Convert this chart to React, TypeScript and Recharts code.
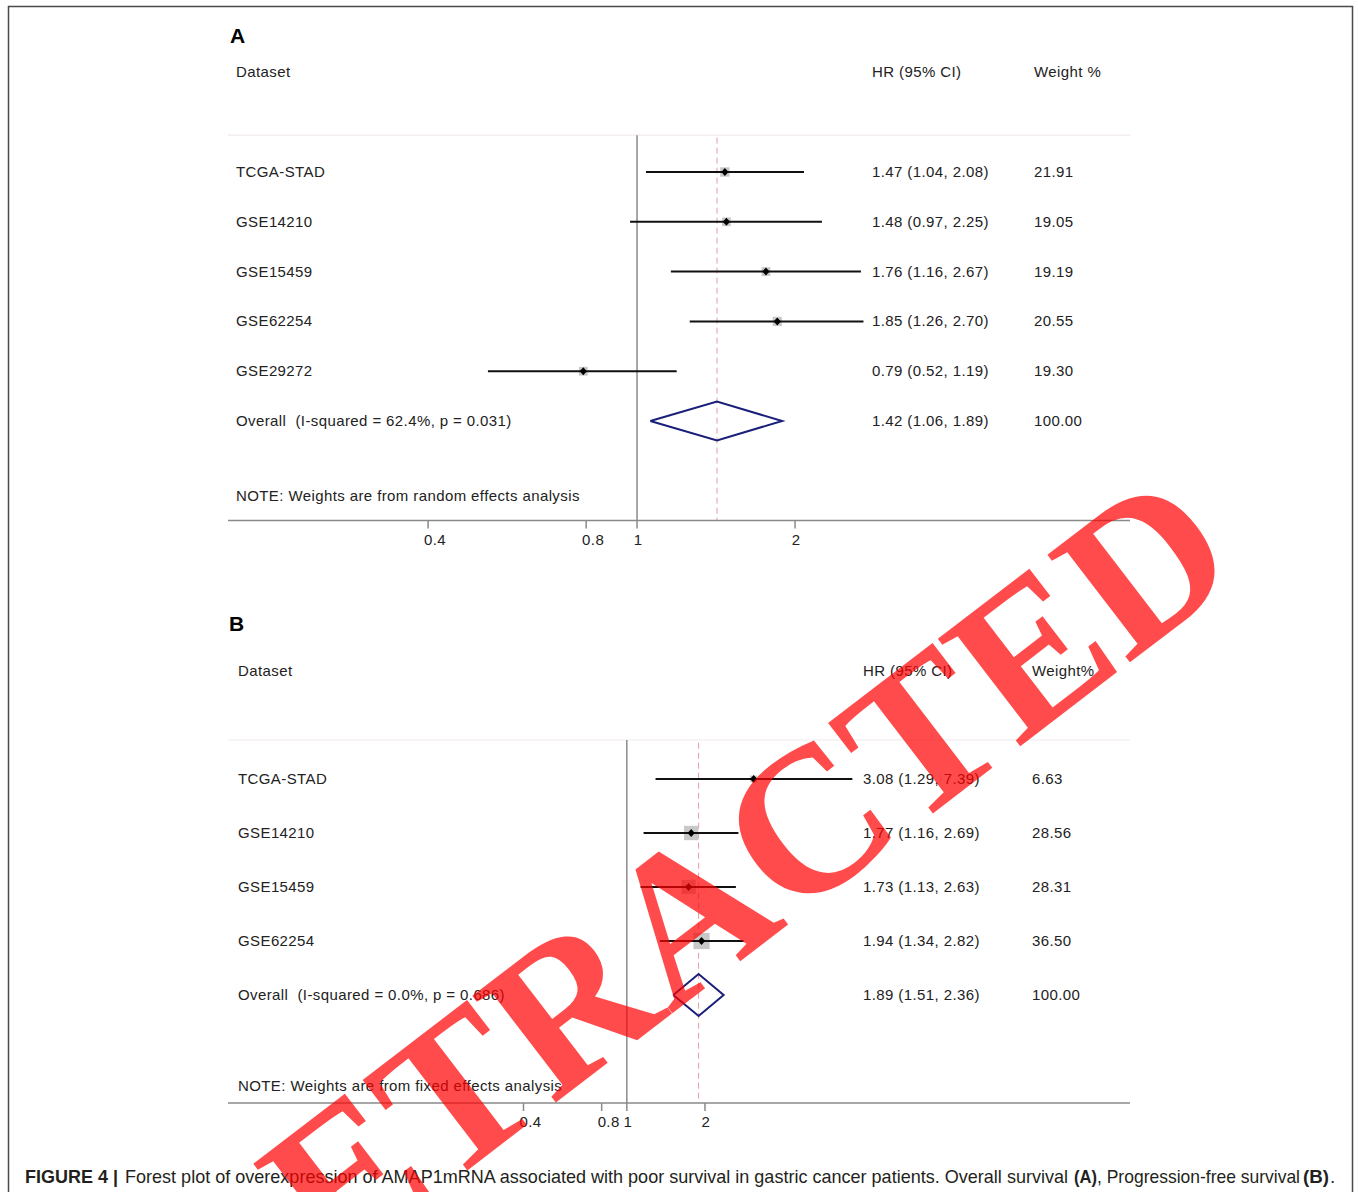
import React from 'react'
import { ScatterChart, Scatter, XAxis, YAxis, ReferenceLine } from 'recharts'

// Panel A: overall survival (random effects)
const studiesA = ['TCGA-STAD', 'GSE14210', 'GSE15459', 'GSE62254', 'GSE29272']
const hrA = [1.47, 1.48, 1.76, 1.85, 0.79]
const lowA = [1.04, 0.97, 1.16, 1.26, 0.52]
const highA = [2.08, 2.25, 2.67, 2.7, 1.19]
const weightA = [21.91, 19.05, 19.19, 20.55, 19.3]
const overallA = { hr: 1.42, lo: 1.06, hi: 1.89 }
const overallLabelA = 'Overall  (I-squared = 62.4%, p = 0.031)'
const noteA = 'NOTE: Weights are from random effects analysis'

// Panel B: progression-free survival (fixed effects)
const studiesB = ['TCGA-STAD', 'GSE14210', 'GSE15459', 'GSE62254']
const hrB = [3.08, 1.77, 1.73, 1.94]
const lowB = [1.29, 1.16, 1.13, 1.34]
const highB = [7.39, 2.69, 2.63, 2.82]
const weightB = [6.63, 28.56, 28.31, 36.5]
const overallB = { hr: 1.89, lo: 1.51, hi: 2.36 }
const overallLabelB = 'Overall  (I-squared = 0.0%, p = 0.686)'
const noteB = 'NOTE: Weights are from fixed effects analysis'

const axisTicks = [0.4, 0.8, 1, 2]

const FONT = '"Liberation Sans", Arial, Helvetica, sans-serif'
const INK = '#222'

const fmtCI = (h: number, l: number, u: number) => `${h.toFixed(2)} (${l.toFixed(2)}, ${u.toFixed(2)})`

function ForestPanel(props: any) {
  const {
    top, height, mTop, mBottom, xDomain, yDomain, studies, hr, low, high, weight, overall,
    overallLabel, note, noteRow, sepRow, colName, colHR, colW, weightHead, boxK
  } = props
  const nStudy = studies.length
  const overallRow = nStudy + 1
  const yMax = yDomain[1]

  const rowText: Record<number, string[]> = { [-1]: ['Dataset', 'HR (95% CI)', weightHead] }
  studies.forEach((s: string, i: number) => {
    rowText[i + 1] = [s, fmtCI(hr[i], low[i], high[i]), weight[i].toFixed(2)]
  })
  rowText[overallRow] = [overallLabel, fmtCI(overall.hr, overall.lo, overall.hi), '100.00']
  rowText[noteRow] = [note, '', '']

  const RowTick = ({ y, payload }: any) => {
    const t = rowText[payload.value]
    if (!t) return <g />
    const style = { fontFamily: FONT, fontSize: 15, fill: INK, letterSpacing: 0.4, whiteSpace: 'pre' as const }
    return (
      <g>
        <text x={colName} y={y} dy={5} style={style} xmlSpace="preserve">{t[0]}</text>
        {t[1] && <text x={colHR} y={y} dy={5} style={style}>{t[1]}</text>}
        {t[2] && <text x={colW} y={y} dy={5} style={style}>{t[2]}</text>}
      </g>
    )
  }

  const AxisTick = ({ x, y, payload }: any) => (
    <text x={x + (payload.value < 1 ? 7 : 1)} y={y} dy={14} textAnchor="middle"
      style={{ fontFamily: FONT, fontSize: 15, fill: INK, letterSpacing: 0.4 }}>
      {payload.value}
    </text>
  )

  const boxes = studies.map((s: string, i: number) => ({ x: hr[i], y: i + 1, w: weight[i] }))
  const diamond = [
    { x: overall.lo, y: overallRow },
    { x: overall.hr, y: overallRow - 0.39 },
    { x: overall.hi, y: overallRow },
    { x: overall.hr, y: overallRow + 0.39 },
    { x: overall.lo, y: overallRow },
  ]

  const BoxShape = ({ cx, cy, payload }: any) => {
    const s = boxK * Math.sqrt(payload.w)
    return <rect x={cx - s / 2} y={cy - s / 2} width={s} height={s} fill="#c8c8c8" />
  }
  const PointShape = ({ cx, cy }: any) => (
    <polygon points={`${cx},${cy - 4} ${cx + 3.6},${cy} ${cx},${cy + 4} ${cx - 3.6},${cy}`} fill="#000" />
  )
  const NoShape = () => <g />

  return (
    <div style={{ position: 'absolute', left: 0, top, width: 1358, height }}>
      <ScatterChart width={1358} height={height} margin={{ top: mTop, right: 228, bottom: mBottom, left: 227 }}>
        <XAxis
          dataKey="x" type="number" scale="log" domain={xDomain} allowDataOverflow
          ticks={axisTicks} interval={0} tick={<AxisTick />} tickSize={8} height={40}
          axisLine={{ stroke: '#8a8a8a', strokeWidth: 1.5 }} tickLine={{ stroke: '#8a8a8a', strokeWidth: 1.5 }}
        />
        <YAxis
          dataKey="y" type="number" domain={yDomain} reversed allowDataOverflow width={1}
          ticks={[-1, ...studies.map((s: string, i: number) => i + 1), overallRow, noteRow]} interval={0}
          axisLine={false} tickLine={false} tick={<RowTick />}
        />
        <ReferenceLine y={sepRow} stroke="#f2e8ea" strokeWidth={1.2} />
        <ReferenceLine segment={[{ x: 1, y: sepRow }, { x: 1, y: yMax }]} stroke="#8a8a8a" strokeWidth={1.5} />
        <ReferenceLine segment={[{ x: overall.hr, y: sepRow + 0.05 }, { x: overall.hr, y: yMax }]}
          stroke="#e79aa4" strokeWidth={1} strokeDasharray="6 4" />
        <Scatter data={boxes} shape={<BoxShape />} isAnimationActive={false} />
        {studies.map((s: string, i: number) => (
          <Scatter key={s} data={[{ x: low[i], y: i + 1 }, { x: high[i], y: i + 1 }]}
            line={{ stroke: '#111', strokeWidth: 2 }} shape={<NoShape />} isAnimationActive={false} />
        ))}
        <Scatter data={boxes} shape={<PointShape />} isAnimationActive={false} />
        <Scatter data={diamond} line={{ stroke: '#1a1f7a', strokeWidth: 2 }} shape={<NoShape />} isAnimationActive={false} />
      </ScatterChart>
    </div>
  )
}

const capStyle = { fontFamily: FONT, fontSize: 19, fill: '#231f20' }
const capBold = { ...capStyle, fontWeight: 'bold' as const }

export default function App() {
  return (
    <div style={{ position: 'absolute', left: 0, top: 0, width: 1358, height: 1192, background: '#fff', overflow: 'hidden' }}>
      <svg width={1358} height={1192} style={{ position: 'absolute', left: 0, top: 0 }}>
        <path d="M8.5,1200 L8.5,6.5 L1352.5,6.5 L1352.5,1200" fill="none" stroke="#4a4a4a" strokeWidth={1.5} />
        <text x={230} y={43} style={{ fontFamily: FONT, fontSize: 21, fontWeight: 'bold', fill: '#000' }}>A</text>
        <text x={229} y={631} style={{ fontFamily: FONT, fontSize: 21, fontWeight: 'bold', fill: '#000' }}>B</text>
      </svg>

      <ForestPanel
        top={0} height={580} mTop={47.5} mBottom={19.4}
        xDomain={[0.1663, 8.69]} yDomain={[-1.5, 8]}
        studies={studiesA} hr={hrA} low={lowA} high={highA} weight={weightA} overall={overallA}
        overallLabel={overallLabelA} note={noteA} noteRow={7.5} sepRow={0.26}
        colName={236} colHR={872} colW={1034} weightHead="Weight %" boxK={2.0}
      />
      <ForestPanel
        top={590} height={580} mTop={54} mBottom={27}
        xDomain={[0.0291, 86.7]} yDomain={[-1.5, 7]}
        studies={studiesB} hr={hrB} low={lowB} high={highB} weight={weightB} overall={overallB}
        overallLabel={overallLabelB} note={noteB} noteRow={6.685} sepRow={0.278}
        colName={238} colHR={863} colW={1032} weightHead="Weight%" boxK={2.68}
      />

      <svg width={1358} height={1192} style={{ position: 'absolute', left: 0, top: 0, pointerEvents: 'none' }}>
        <text x={25} y={1183} textLength={93} lengthAdjust="spacingAndGlyphs" style={capBold}>FIGURE 4 |</text>
        <text x={125} y={1183} textLength={943} lengthAdjust="spacingAndGlyphs" style={capStyle}>
          Forest plot of overexpression of AMAP1mRNA associated with poor survival in gastric cancer patients. Overall survival
        </text>
        <text x={1074} y={1183} textLength={23} lengthAdjust="spacingAndGlyphs" style={capBold}>(A)</text>
        <text x={1097} y={1183} textLength={203} lengthAdjust="spacingAndGlyphs" style={capStyle}>, Progression-free survival</text>
        <text x={1303} y={1183} textLength={26} lengthAdjust="spacingAndGlyphs" style={capBold}>(B)</text>
        <text x={1330} y={1183} style={capStyle}>.</text>
        <text x={730} y={969} textAnchor="middle" transform="rotate(-37.5 730 969)"
          style={{ fontFamily: '"Liberation Serif", "Times New Roman", serif', fontSize: 207, fontWeight: 'bold', fill: '#ff0000', opacity: 0.7 }}>
          RETRACTED
        </text>
      </svg>
    </div>
  )
}
